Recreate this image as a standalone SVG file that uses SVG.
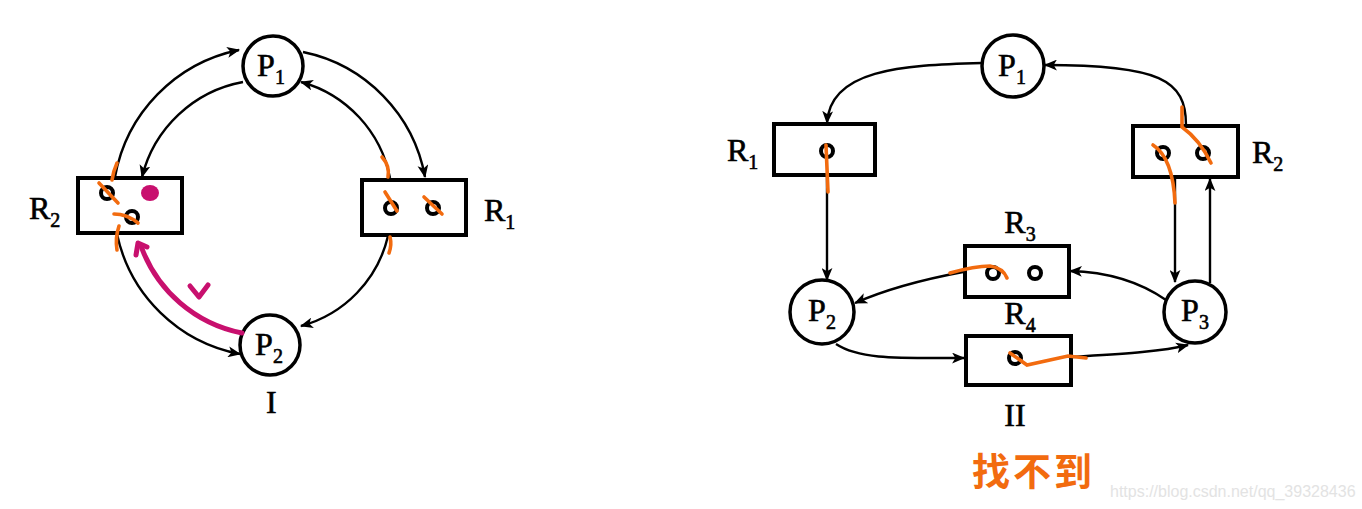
<svg xmlns="http://www.w3.org/2000/svg" width="1362" height="509" viewBox="0 0 1362 509">
<defs>
<marker id="ah" viewBox="0 0 12 10" refX="11" refY="5" markerWidth="13" markerHeight="11" markerUnits="userSpaceOnUse" orient="auto">
<path d="M0,0 L12,5 L0,10 L3,5 z" fill="#000"/>
</marker>
</defs>
<style>
.node{fill:#fff;stroke:#000;stroke-width:3.5}
.res{fill:#fff;stroke:#000;stroke-width:4}
.dot{fill:#fff;stroke:#000;stroke-width:4}
.edge{fill:none;stroke:#000;stroke-width:2.4;marker-end:url(#ah)}
.lbl{font-family:"Liberation Serif",serif;font-size:32px;fill:#000;stroke:#000;stroke-width:0.6}
.c{text-anchor:middle}
.sub{font-size:20px}
.or{fill:none;stroke:#f26b0f;stroke-width:3.6;stroke-linecap:round}
.mg{fill:none;stroke:#c8106e;stroke-width:5;stroke-linecap:round;stroke-linejoin:round}
</style>
<rect width="1362" height="509" fill="#fff"/>

<g id="connectors">
<path class="edge" d="M115,177 A158,158 0 0 1 239,50"/>
<path class="edge" d="M243,82 A128,128 0 0 0 142,177"/>
<path class="edge" d="M303,52 A156,156 0 0 1 425,177"/>
<path class="edge" d="M390,178 A124,124 0 0 0 301,82"/>
<path class="edge" d="M388,236 A122,122 0 0 1 301,326"/>
<path class="edge" d="M117,234 A155,155 0 0 0 240,354"/>

<path class="edge" d="M982,63 C900,65 830,70 827,123"/>
<path class="edge" d="M1186,125 C1186,80 1160,65 1045,65"/>
<path class="edge" d="M827,175 L827,280"/>
<path class="edge" d="M1175,177 L1175,282"/>
<path class="edge" d="M1210,283 L1210,179"/>
<path class="edge" d="M1166,300 C1140,282 1110,272 1070,271"/>
<path class="edge" d="M963,272 C920,280 880,292 855,303"/>
<path class="edge" d="M836,344 C860,360 900,358 964,358"/>
<path class="edge" d="M1072,357 C1120,354 1160,352 1188,345"/>
</g>

<g id="left-P1"><circle class="node" cx="273" cy="66" r="30"/><text class="lbl c" x="271" y="76">P<tspan class="sub" dy="8">1</tspan></text></g>
<g id="left-P2"><circle class="node" cx="270" cy="345" r="30"/><text class="lbl c" x="269" y="355">P<tspan class="sub" dy="8">2</tspan></text></g>
<g id="left-R2"><rect class="res" x="78" y="178" width="104" height="55"/>
<circle class="dot" cx="107" cy="193" r="6"/><ellipse cx="150" cy="193" rx="9" ry="8" fill="#c8106e"/><circle class="dot" cx="132" cy="217" r="6"/>
<text class="lbl" x="29" y="219">R<tspan class="sub" dy="8">2</tspan></text></g>
<g id="left-R1"><rect class="res" x="362" y="180" width="104" height="55"/>
<circle class="dot" cx="391" cy="208" r="6"/><circle class="dot" cx="433" cy="208" r="6"/>
<text class="lbl" x="484" y="221">R<tspan class="sub" dy="8">1</tspan></text></g>
<text class="lbl" x="266" y="413">I</text>

<g id="left-marks">
<path class="or" d="M117,163 Q113,172 112,180"/>
<path class="or" d="M99,183 L118,203"/>
<path class="or" d="M114,214 Q127,214 138,223"/>
<path class="or" d="M119,226 Q115,238 117,250"/>
<path class="or" d="M382,157 Q390,166 388,177"/>
<path class="or" d="M385,192 L397,211"/>
<path class="or" d="M424,197 L442,214"/>
<path class="or" d="M390,237 Q392,245 389,253"/>
<path class="mg" d="M242,333 A135,135 0 0 1 141,246"/>
<path class="mg" d="M136,255 L138,243 L147,247"/>
<path class="mg" d="M190,286 L199,297 L208,285"/>
</g>

<g id="right-P1"><circle class="node" cx="1013" cy="66" r="31"/><text class="lbl c" x="1012" y="76">P<tspan class="sub" dy="8">1</tspan></text></g>
<g id="right-R1"><rect class="res" x="774" y="124" width="101" height="51"/><circle class="dot" cx="827" cy="151" r="6"/>
<text class="lbl" x="727" y="161">R<tspan class="sub" dy="8">1</tspan></text></g>
<g id="right-R2"><rect class="res" x="1133" y="126" width="105" height="51"/><circle class="dot" cx="1163" cy="153" r="6"/><circle class="dot" cx="1203" cy="153" r="6"/>
<text class="lbl" x="1252" y="163">R<tspan class="sub" dy="8">2</tspan></text></g>
<g id="right-R3"><rect class="res" x="965" y="246" width="104" height="51"/><circle class="dot" cx="993" cy="273" r="6"/><circle class="dot" cx="1035" cy="273" r="6"/>
<text class="lbl c" x="1020" y="233">R<tspan class="sub" dy="8">3</tspan></text></g>
<g id="right-R4"><rect class="res" x="966" y="336" width="105" height="49"/><circle class="dot" cx="1015" cy="358" r="6"/>
<text class="lbl c" x="1020" y="324">R<tspan class="sub" dy="8">4</tspan></text></g>
<g id="right-P2"><circle class="node" cx="822" cy="312" r="32"/><text class="lbl c" x="822" y="321">P<tspan class="sub" dy="8">2</tspan></text></g>
<g id="right-P3"><circle class="node" cx="1195" cy="312" r="31"/><text class="lbl c" x="1195" y="321">P<tspan class="sub" dy="8">3</tspan></text></g>
<text class="lbl c" x="1015" y="426">II</text>

<g id="right-marks">
<path class="or" d="M826,145 L828,192"/>
<path class="or" d="M1182,107 L1182,127 Q1200,140 1211,163"/>
<path class="or" d="M1153,145 Q1173,158 1175,203"/>
<path class="or" d="M950,273 Q975,266 990,266 Q1003,268 1007,278"/>
<path class="or" d="M1010,353 L1027,365 L1068,356 L1086,358"/>
</g>

<text x="972" y="485" font-family="Noto Sans CJK SC, sans-serif" font-weight="bold" font-size="38" letter-spacing="3" fill="#f26b0f">找不到</text>
<text x="1110" y="497" font-family="Liberation Sans, sans-serif" font-size="16" fill="#e3e3e3">https://blog.csdn.net/qq_39328436</text>
</svg>
